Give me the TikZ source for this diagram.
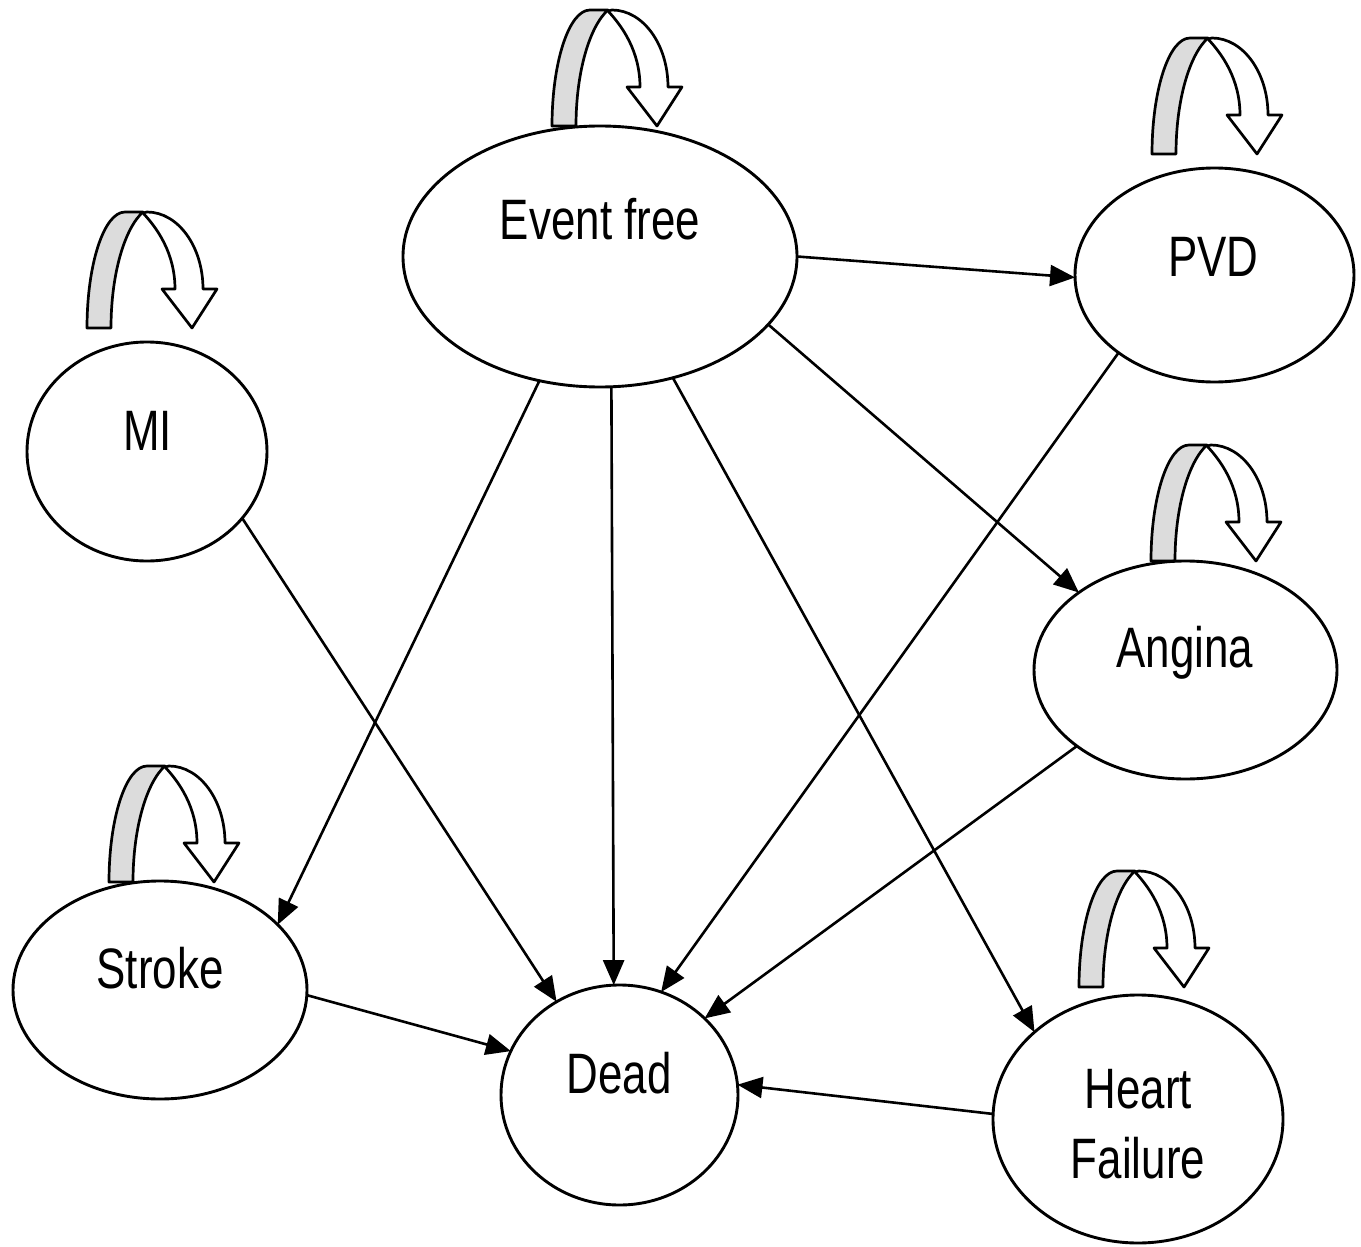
\documentclass[tikz,border=0pt]{standalone}
\usepackage{fontspec}
\setmainfont{Liberation Sans}[FakeStretch=0.77]
\usetikzlibrary{arrows.meta,shapes.geometric}
\definecolor{loopgray}{RGB}{220,220,220}
\tikzset{
  state/.style={draw=black, line width=2.9pt, ellipse, inner sep=0pt, outer sep=0pt},
  lbl/.style={inner sep=0pt, anchor=base, font=\fontsize{57}{68}\selectfont},
  conn/.style={draw=black, line width=2.6pt, -{Triangle[length=25pt,width=21pt]}},
  loopline/.style={draw=black, line width=2.7pt, line join=round},
  selfloop/.pic={
    \path[loopline, fill=loopgray] (0,0) .. controls (0,-64) and (17,-116) .. (38,-116)
      -- (56,-116) .. controls (38,-100) and (24,-55) .. (24,0) -- cycle;
    \path[loopline, fill=white] (56,-115) -- (60,-116) .. controls (91,-116) and (116,-81.5) .. (116,-39)
      -- (130,-39) -- (105,0) -- (75,-39) -- (88,-39)
      .. controls (88,-75) and (70,-100) .. (56,-115) -- cycle;
  }
}
\begin{document}
\begin{tikzpicture}[x=1pt,y=-1pt]
\useasboundingbox[fill=white] (0,0) rectangle (1361,1247);

% self loops
\pic at (552,126) {selfloop};
\pic at (1152,154) {selfloop};
\pic at (87,328) {selfloop};
\pic at (1151,561) {selfloop};
\pic at (109,882) {selfloop};
\pic at (1079,987) {selfloop};

% states
\node[state, minimum width=394pt, minimum height=261pt] (ef) at (600,256.5) {};
\node[state, minimum width=279pt, minimum height=214pt] (pvd) at (1214.5,275) {};
\node[state, minimum width=240pt, minimum height=219pt] (mi) at (147,451.5) {};
\node[state, minimum width=303pt, minimum height=218pt] (ang) at (1185.5,670) {};
\node[state, minimum width=294pt, minimum height=218pt] (str) at (160,990) {};
\node[state, minimum width=237pt, minimum height=220pt] (dead) at (619.5,1095) {};
\node[state, minimum width=290pt, minimum height=248pt] (hf) at (1138,1119) {};

% labels
\node[lbl] (efl) at (600,239) {Event free};
\node[lbl] (pvdl) at (1213.5,276) {PVD};
\node[lbl] (mil) at (147.5,450) {MI};
\node[lbl] (angl) at (1185,667) {Angina};
\node[lbl] (strl) at (160,988) {Stroke};
\node[lbl] (deadl) at (619,1093) {Dead};
\node[lbl] (hfl1) at (1138.5,1108) {Heart};
\node[lbl] (hfl2) at (1138,1178) {Failure};

% connectors
\draw[conn] (ef.0) -- (pvd.181);
\draw[conn] (ef.338.3) -- (ang.144.3);
\draw[conn] (ef.244.4) -- (str.29);
\draw[conn] (ef.275.6) -- (dead.93.4);
\draw[conn] (ef.301.6) -- (hf.140.4);
\draw[conn] (mi.325.3) -- (dead.124.4);
\draw[conn] (pvd.219.2) -- (dead.68.1);
\draw[conn] (ang.215.4) -- (dead.42.3);
\draw[conn] (str.358.1) -- (dead.158.5);
\draw[conn] (hf.178) -- (dead.5.3);
\end{tikzpicture}
\end{document}
